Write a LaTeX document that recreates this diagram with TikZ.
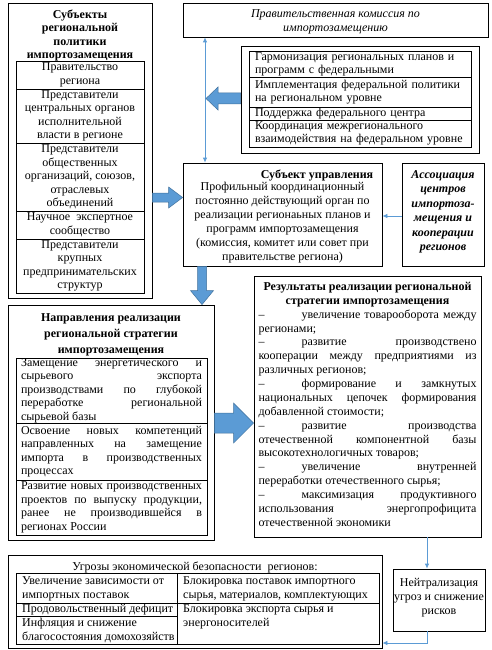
\documentclass[tikz,border=0pt]{standalone}
\usepackage{fontspec}
\setmainfont{Liberation Serif}
\usetikzlibrary{arrows.meta,calc}
\definecolor{ablue}{RGB}{91,155,213}
\definecolor{aedge}{RGB}{65,113,156}
\definecolor{tblue}{RGB}{91,155,213}
\setlength{\parindent}{0pt}
\newcommand\fsz[1]{\fontsize{12}{#1}\selectfont}
% fat arrows: start, end, shaft half, head half, head length
\newcommand\arrR[5]{\path[fat] let \p1=(#1), \p2=(#2) in
  (\x1,{\y1+#3}) -- ({\x2-#5},{\y1+#3}) -- ({\x2-#5},{\y1+#4}) -- (\x2,\y1)
  -- ({\x2-#5},{\y1-#4}) -- ({\x2-#5},{\y1-#3}) -- (\x1,{\y1-#3}) -- cycle;}
\newcommand\arrL[5]{\path[fat] let \p1=(#1), \p2=(#2) in
  (\x1,{\y1+#3}) -- ({\x2+#5},{\y1+#3}) -- ({\x2+#5},{\y1+#4}) -- (\x2,\y1)
  -- ({\x2+#5},{\y1-#4}) -- ({\x2+#5},{\y1-#3}) -- (\x1,{\y1-#3}) -- cycle;}
\newcommand\arrD[5]{\path[fat] let \p1=(#1), \p2=(#2) in
  ({\x1-#3},\y1) -- ({\x1-#3},{\y2+#5}) -- ({\x1-#4},{\y2+#5}) -- (\x1,\y2)
  -- ({\x1+#4},{\y2+#5}) -- ({\x1+#3},{\y2+#5}) -- ({\x1+#3},\y1) -- cycle;}
\begin{document}
\begin{tikzpicture}[x=1pt,y=-1pt,
  every node/.style={font=\fsz{13.8}},
  box/.style={draw, line width=0.8pt, inner sep=0pt, align=center},
  lcell/.style={box, align=left},
  jcell/.style={box, align=justify},
  txt/.style={inner sep=0pt, align=center},
  ltxt/.style={inner sep=0pt, align=left, anchor=west},
  thinarr/.style={draw=tblue, line width=0.8pt, -{Latex[length=5pt,width=4.5pt]}},
  fat/.style={fill=ablue, draw=aedge, line width=0.5pt}]
\useasboundingbox (0,0) rectangle (491,650);

% ---------- left: subjects ----------
\node[box, minimum width=144pt, minimum height=295pt] (lbox) at (80,150.5) {};
\node[txt, font=\fsz{13.4}\bfseries] (lbt) at (80,35.5) {Субъекты\\региональной\\политики\\импортозамещения};
\node[box, font=\fsz{13.4}, minimum width=128pt, minimum height=28pt] (s1) at (80,75) {Правительство\\региона};
\node[box, font=\fsz{13.4}, minimum width=128pt, minimum height=54pt] (s2) at (80,116) {Представители\\центральных органов\\исполнительной\\власти в регионе};
\node[box, font=\fsz{13.4}, minimum width=128pt, minimum height=68pt] (s3) at (80,177) {Представители\\общественных\\организаций, союзов,\\отраслевых\\объединений};
\node[box, font=\fsz{13.4}, minimum width=128pt, minimum height=28pt] (s4) at (80,225) {Научное\ \ экспертное\\сообщество};
\node[box, font=\fsz{13.4}, minimum width=128pt, minimum height=54pt] (s5) at (80,266) {Представители\\крупных\\предпринимательских\\структур};

% ---------- commission ----------
\node[box, minimum width=305pt, minimum height=34pt] (com) at (335.5,20) {};
\node[txt, font=\fsz{14}\itshape] (comt) at (335.5,22) {Правительственная комиссия по\\импортозамещению};

% ---------- coordination ----------
\node[box, minimum width=238pt, minimum height=107pt] (coord) at (360,99.5) {};
\node[lcell, font=\fsz{13}, text width=210pt, minimum width=222pt, minimum height=26pt] (c1) at (360,64) {Гармонизация региональных планов и\\программ с федеральными};
\node[lcell, font=\fsz{13}, text width=210pt, minimum width=222pt, minimum height=30pt] (c2) at (360,92) {Имплементация федеральной политики\\на региональном уровне};
\node[lcell, font=\fsz{13}, text width=210pt, minimum width=222pt, minimum height=13pt] (c3) at (360,113.5) {Поддержка федерального центра};
\node[lcell, font=\fsz{13}, text width=210pt, minimum width=222pt, minimum height=27pt] (c4) at (360,133.5) {Координация межрегионального\\взаимодействия на федеральном уровне};

% ---------- subject of management ----------
\node[box, minimum width=199pt, minimum height=103pt] (subj) at (282.5,214.5) {};
\node[txt, font=\fsz{14}\bfseries] (subjt) at (317,175) {Субъект управления};
\node[txt, font=\fsz{14}] (subjb) at (282.5,223) {Профильный координационный\\постоянно действующий орган по\\реализации регионаьных планов и\\программ импортозамещения\\(комиссия, комитет или совет при\\правительстве региона)};

% ---------- association ----------
\node[box, minimum width=82pt, minimum height=103pt] (assoc) at (443,214.5) {};
\node[txt, font=\fsz{14.5}\bfseries\itshape] (assoct) at (443,212) {Ассоциация\\центров\\импортоза-\\мещения и\\кооперации\\регионов};

% ---------- directions ----------
\node[box, minimum width=206pt, minimum height=235pt] (napr) at (111,422.5) {};
\node[txt, font=\fsz{16}\bfseries] (naprt) at (111,334.5) {Направления реализации\\региональной стратегии\\импортозамещения};
\node[jcell, font=\fsz{13.4}, text width=181pt, minimum width=191pt, minimum height=65pt] (n1) at (111.5,390.5) {Замещение энергетического и\linebreak сырьевого экспорта\linebreak производствами по глубокой\linebreak переработке региональной\linebreak сырьевой базы};
\node[jcell, font=\fsz{13.4}, text width=181pt, minimum width=191pt, minimum height=57pt] (n2) at (111.5,451.5) {Освоение новых компетенций\linebreak направленных на замещение\linebreak импорта в производственных\linebreak процессах};
\node[jcell, font=\fsz{13.6}, text width=181pt, minimum width=191pt, minimum height=55pt] (n3) at (111.5,507.5) {Развитие новых производственных\linebreak проектов по выпуску продукции,\linebreak ранее не производившейся в\linebreak регионах России};

% ---------- results ----------
\node[box, minimum width=227pt, minimum height=261pt] (res) at (367.5,406.5) {};
\node[txt, font=\fsz{14.5}\bfseries] (rest) at (367.5,294.5) {Результаты реализации региональной\\стратегии импортозамещения};
\node[inner sep=0pt, font=\fsz{13.87}, text width=218pt, align=justify] (resb) at (367.5,418) {%
\makebox[43pt][l]{–}увеличение товарооборота между\linebreak регионами;\par
\makebox[43pt][l]{–}развитие производствено\linebreak кооперации между предприятиями из\linebreak различных регионов;\par
\makebox[43pt][l]{–}формирование и замкнутых\linebreak национальных цепочек формирования\linebreak добавленной стоимости;\par
\makebox[43pt][l]{–}развитие производства\linebreak отечественной компонентной базы\linebreak высокотехнологичных товаров;\par
\makebox[43pt][l]{–}увеличение внутренней\linebreak переработки отечественного сырья;\par
\makebox[43pt][l]{–}максимизация продуктивного\linebreak использования энергопрофицита\linebreak отечественной экономики\par};

% ---------- neutralisation ----------
\node[box, minimum width=92pt, minimum height=62pt] (neu) at (439,600) {};
\node[txt, font=\fsz{14}] (neut) at (439,597.5) {Нейтрализация\\угроз и снижение\\рисков};

% ---------- threats ----------
\node[box, minimum width=374pt, minimum height=93pt] (thr) at (195,601.5) {};
\node[txt] (thrt) at (195,567) {Угрозы экономической безопасности\ \ регионов:};
\node[box, minimum width=161pt, minimum height=30pt] (u1) at (96.5,588) {};
\node[box, minimum width=161pt, minimum height=13pt] (u2) at (96.5,609.5) {};
\node[box, minimum width=161pt, minimum height=28pt] (u3) at (96.5,630) {};
\node[box, minimum width=202pt, minimum height=30pt] (u4) at (278,588) {};
\node[box, minimum width=202pt, minimum height=41pt] (u5) at (278,623.5) {};
\node[ltxt, font=\fsz{14}] (u1t) at (22,589) {Увеличение зависимости от\\импортных поставок};
\node[ltxt, font=\fsz{14}] (u2t) at (22,610) {Продовольственный дефицит};
\node[ltxt, font=\fsz{14}] (u3t) at (22,630.5) {Инфляция и снижение\\благосостояния домохозяйств};
\node[ltxt, font=\fsz{14}] (u4t) at (183,589) {Блокировка поставок импортного\\сырья, материалов, комплектующих};
\node[ltxt, font=\fsz{14}, anchor=north west] (u5t) at (183,604.5) {Блокировка экспорта сырья и\\энергоносителей};

% ---------- thin arrows ----------
\draw[thinarr, {Latex[length=5pt,width=4.5pt]}-{Latex[length=5pt,width=4.5pt]}] (com.south -| 205,0) -- (subj.north -| 205,0);
\draw[thinarr] (assoc.west |- 0,216) -- (subj.east |- 0,216);
\draw[thinarr] (res.south -| 427,0) -- (neu.north -| 427,0);
\draw[thinarr] (neu.south -| 427,0) |- (thr.east |- 0,643);

% ---------- fat arrows ----------
\coordinate (vtip) at (206,98.5);
\arrR{lbox.east |- 0,197.5}{subj.west |- 0,197.5}{4.5pt}{10.5pt}{14pt}
\arrL{coord.west |- 0,98.5}{vtip}{5.5pt}{11.5pt}{12pt}
\arrD{subj.south -| 202,0}{napr.north -| 202,0}{4.5pt}{11.5pt}{14pt}
\arrR{napr.east |- 0,423}{res.west |- 0,423}{10pt}{20pt}{20pt}
\end{tikzpicture}
\end{document}
